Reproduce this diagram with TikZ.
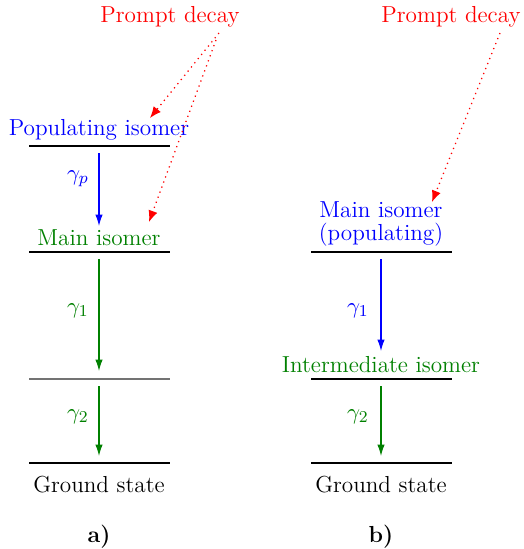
\documentclass[tikz,border=0pt]{standalone}
\usetikzlibrary{arrows.meta}
\definecolor{dgreen}{rgb}{0,0.5,0}
\begin{document}
\begin{tikzpicture}[x=0.483pt,y=-0.483pt,
  font=\fontsize{11.2}{13}\selectfont,
  level/.style={line width=1pt,black},
  weaklevel/.style={line width=0.6pt,black!55},
  gam/.style={-{Latex[length=5.5pt,width=3.6pt]},line width=0.55pt},
  prompt/.style={red,dotted,line width=0.6pt,-{Latex[length=5.5pt,width=4.5pt]}},
  lbl/.style={anchor=base,inner sep=0pt}]
\useasboundingbox (0,0) rectangle (523,549);
% ---------- a) ----------
\coordinate (aPl) at (29,146); \coordinate (aPr) at (170,146);
\coordinate (aMl) at (29,252); \coordinate (aMr) at (170,252);
\coordinate (aIl) at (29,379); \coordinate (aIr) at (170,379);
\coordinate (aGl) at (29,463); \coordinate (aGr) at (170,463);
\draw[level] (aPl) -- (aPr);
\draw[level] (aMl) -- (aMr);
\draw[weaklevel] (aIl) -- (aIr);
\draw[level] (aGl) -- (aGr);
\node[lbl,red] (aPD) at (170,22) {Prompt decay};
\node[lbl,blue] (aPop) at (99,135) {Populating isomer};
\node[lbl,dgreen] (aMain) at (99,245) {Main isomer};
\node[lbl] (aGround) at (99,492) {Ground state};
\node[lbl] (aLab) at (99,542) {\textbf{a)}};
\coordinate (ap1) at (99,153); \coordinate (ap2) at (99,226);
\coordinate (a11) at (99,259); \coordinate (a12) at (99,371);
\coordinate (a21) at (99,386); \coordinate (a22) at (99,456);
\draw[gam,blue] (ap1) -- (ap2);
\draw[gam,dgreen] (a11) -- (a12);
\draw[gam,dgreen] (a21) -- (a22);
\node[lbl,blue] (agp) at (78,180) {$\gamma_p$};
\node[lbl,dgreen] (ag1) at (78,313) {$\gamma_1$};
\node[lbl,dgreen] (ag2) at (78,419) {$\gamma_2$};
\coordinate (aPDs1) at (219,33); \coordinate (aPDe1) at (150,118);
\coordinate (aPDs2) at (216,40); \coordinate (aPDe2) at (149,222);
\draw[prompt] (aPDs1) -- (aPDe1);
\draw[prompt] (aPDs2) -- (aPDe2);
% ---------- b) ----------
\coordinate (bMl) at (311,252); \coordinate (bMr) at (452,252);
\coordinate (bIl) at (311,379); \coordinate (bIr) at (452,379);
\coordinate (bGl) at (311,463); \coordinate (bGr) at (452,463);
\draw[level] (bMl) -- (bMr);
\draw[level] (bIl) -- (bIr);
\draw[level] (bGl) -- (bGr);
\node[lbl,red] (bPD) at (451,22) {Prompt decay};
\node[lbl,blue] (bMain) at (381,217) {Main isomer};
\node[lbl,blue] (bMain2) at (381,240) {(populating)};
\node[lbl,dgreen] (bInt) at (381,372) {Intermediate isomer};
\node[lbl] (bGround) at (381,492) {Ground state};
\node[lbl] (bLab) at (381,542) {\textbf{b)}};
\coordinate (b11) at (381,259); \coordinate (b12) at (381,351);
\coordinate (b21) at (381,386); \coordinate (b22) at (381,456);
\draw[gam,blue] (b11) -- (b12);
\draw[gam,dgreen] (b21) -- (b22);
\node[lbl,blue] (bg1) at (358,313) {$\gamma_1$};
\node[lbl,dgreen] (bg2) at (358,419) {$\gamma_2$};
\coordinate (bPDs) at (500,33); \coordinate (bPDe) at (432,202);
\draw[prompt] (bPDs) -- (bPDe);
\end{tikzpicture}
\end{document}
